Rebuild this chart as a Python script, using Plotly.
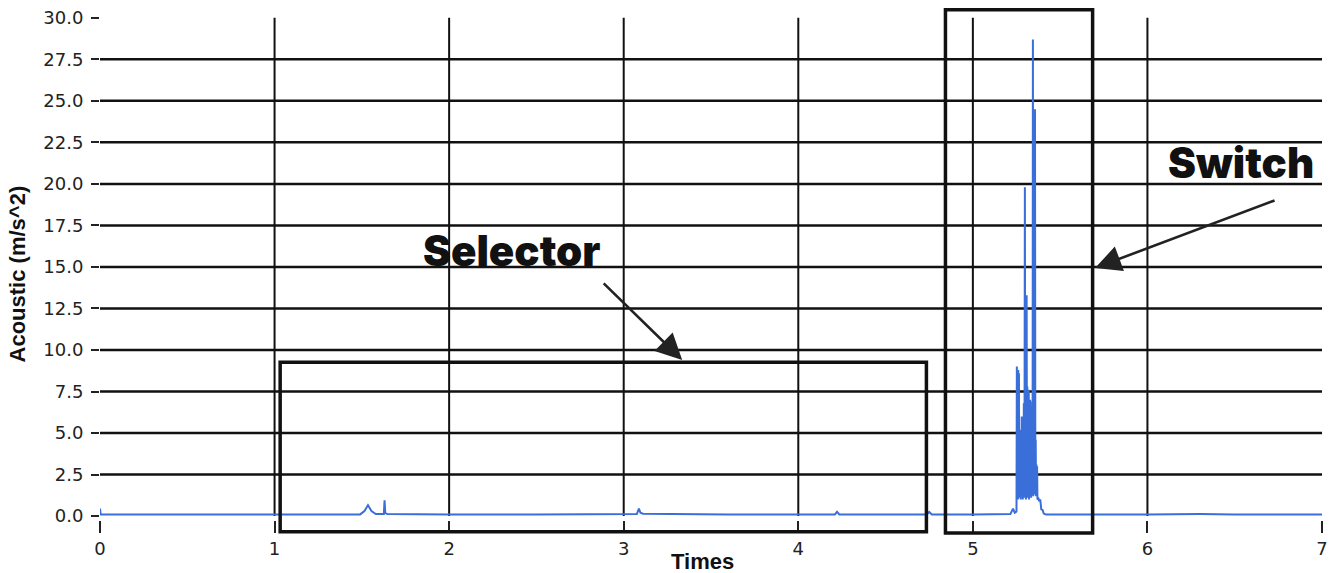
import plotly.graph_objects as go

# ---------------- data ----------------
time_s = [
    0.000, 0.004, 0.50, 1.00, 1.49, 1.515, 1.535, 1.555, 1.58, 1.626, 1.630, 1.634, 1.645,
    2.00, 2.50, 3.075, 3.087, 3.096, 3.11, 3.60, 4.21, 4.222, 4.235, 4.735, 4.75, 4.765,
    5.00, 5.215, 5.230, 5.240, 5.248,
    5.250, 5.252, 5.254, 5.256, 5.258, 5.260, 5.262, 5.264, 5.266, 5.268,
    5.270, 5.272, 5.274, 5.276, 5.278, 5.280, 5.282, 5.284, 5.286, 5.288,
    5.290, 5.292, 5.294, 5.296, 5.298, 5.300, 5.302, 5.304, 5.306, 5.308,
    5.310, 5.312, 5.314, 5.316, 5.318, 5.320, 5.322, 5.324, 5.326, 5.328,
    5.330, 5.332, 5.334, 5.336, 5.338, 5.340, 5.342, 5.344, 5.346, 5.348,
    5.350, 5.352, 5.354, 5.356, 5.358, 5.360, 5.362, 5.364, 5.366, 5.368,
    5.370, 5.376, 5.380, 5.386, 5.392, 5.400, 5.406, 5.420,
    5.60, 6.00, 6.30, 6.50, 7.00,
]
accel = [
    0.45, 0.10, 0.10, 0.10, 0.10, 0.30, 0.66, 0.30, 0.12, 0.12, 0.95, 0.20, 0.12,
    0.10, 0.10, 0.12, 0.45, 0.20, 0.14, 0.10, 0.10, 0.26, 0.10, 0.10, 0.25, 0.10,
    0.10, 0.12, 0.45, 0.20, 0.25,
    0.30, 9.00, 1.20, 6.50, 1.00, 8.80, 1.50, 8.60, 1.10, 4.50,
    1.30, 5.20, 1.00, 3.80, 1.40, 6.00, 1.20, 4.20, 1.00, 5.50,
    1.30, 6.80, 1.10, 4.80, 19.8, 1.20, 7.20, 1.00, 5.00, 13.3,
    1.40, 7.80, 1.10, 6.20, 1.30, 7.60, 1.00, 5.40, 1.20, 7.00,
    1.40, 6.60, 1.10, 5.80, 1.30, 6.90, 1.50, 28.7, 1.20, 6.00,
    1.40, 5.20, 1.30, 24.5, 1.60, 4.60, 1.20, 3.10, 1.30, 3.00,
    1.00, 1.05, 0.90, 1.00, 0.40, 0.35, 0.15, 0.10,
    0.10, 0.10, 0.12, 0.10, 0.10,
]

x_ticks = [0, 1, 2, 3, 4, 5, 6, 7]
y_ticks = [0.0, 2.5, 5.0, 7.5, 10.0, 12.5, 15.0, 17.5, 20.0, 22.5, 25.0, 27.5, 30.0]
y_tick_text = ["0.0", "2.5", "5.0", "7.5", "10.0", "12.5", "15.0", "17.5",
               "20.0", "22.5", "25.0", "27.5", "30.0"]

# highlighted regions (x0, x1, y0, y1)
selector_box = [1.032, 4.734, -0.95, 9.26]
switch_box = [4.843, 5.686, -1.02, 30.48]

# ---------------- figure ----------------
X_RANGE = [0, 7]
Y_RANGE = [-1.2, 30.65]

fig = go.Figure()
fig.add_trace(go.Scatter(
    x=time_s, y=accel, mode="lines",
    line=dict(color="#3a6ed8", width=2, simplify=False),
    showlegend=False, hoverinfo="x+y",
))

shapes = []
for yv in y_ticks[1:-1]:
    shapes.append(dict(type="line", xref="x", yref="y", x0=X_RANGE[0], x1=X_RANGE[1],
                       y0=yv, y1=yv, line=dict(color="#111111", width=2.5), layer="below"))
for xv in x_ticks[1:-1]:
    shapes.append(dict(type="line", xref="x", yref="y", x0=xv, x1=xv,
                       y0=0, y1=30, line=dict(color="#111111", width=2), layer="below"))
for b in (selector_box, switch_box):
    shapes.append(dict(type="rect", xref="x", yref="y", x0=b[0], x1=b[1], y0=b[2], y1=b[3],
                       line=dict(color="#111111", width=3.5), fillcolor="rgba(0,0,0,0)",
                       layer="above"))

big_font = dict(family="Inter, Liberation Sans, Arial", size=42, color="#111111", weight=900)
annotations = [
    dict(x=2.36, y=16.0, xref="x", yref="y", text="Selector", showarrow=False, font=big_font),
    dict(x=6.538, y=21.27, xref="x", yref="y", text="Switch", showarrow=False, font=big_font),
    dict(x=3.335, y=9.40, xref="x", yref="y", text="", showarrow=True, ax=-80, ay=-78,
         arrowhead=2, arrowsize=2.0, arrowwidth=2.6, arrowcolor="#222222", standoff=0),
    dict(x=5.700, y=14.94, xref="x", yref="y", text="", showarrow=True, ax=181, ay=-68,
         arrowhead=2, arrowsize=2.0, arrowwidth=2.6, arrowcolor="#222222", standoff=0),
    dict(x=3.45, y=-0.049, xref="x", yref="paper", text="<b>Times</b>", showarrow=False,
         xanchor="center", yanchor="middle",
         font=dict(family="Liberation Sans, Arial", size=22, color="#111111")),
    dict(x=-0.0672, y=14.6, xref="paper", yref="y", text="<b>Acoustic (m/s^2)</b>",
         textangle=-90, showarrow=False, xanchor="center", yanchor="middle",
         font=dict(family="Liberation Sans, Arial", size=22, color="#111111")),
]

x_axis_pos = (-0.25 - Y_RANGE[0]) / (Y_RANGE[1] - Y_RANGE[0])

fig.update_layout(
    width=1330, height=573,
    margin=dict(l=100, r=8, t=7, b=37),
    paper_bgcolor="white", plot_bgcolor="white",
    shapes=shapes, annotations=annotations,
    xaxis=dict(range=X_RANGE, tickvals=x_ticks, showgrid=False, zeroline=False, showline=False,
               ticks="outside", ticklen=12, tickwidth=2, tickcolor="#222222",
               anchor="free", position=x_axis_pos, automargin=False,
               tickfont=dict(family="DejaVu Sans", size=18, color="#222222")),
    yaxis=dict(range=Y_RANGE, tickvals=y_ticks, ticktext=y_tick_text, showgrid=False,
               zeroline=False, showline=False, ticks="outside", ticklen=8, tickwidth=2,
               tickcolor="#222222", ticklabelstandoff=4, automargin=False,
               tickfont=dict(family="DejaVu Sans", size=18, color="#222222")),
)

fig.write_html("out.html")
